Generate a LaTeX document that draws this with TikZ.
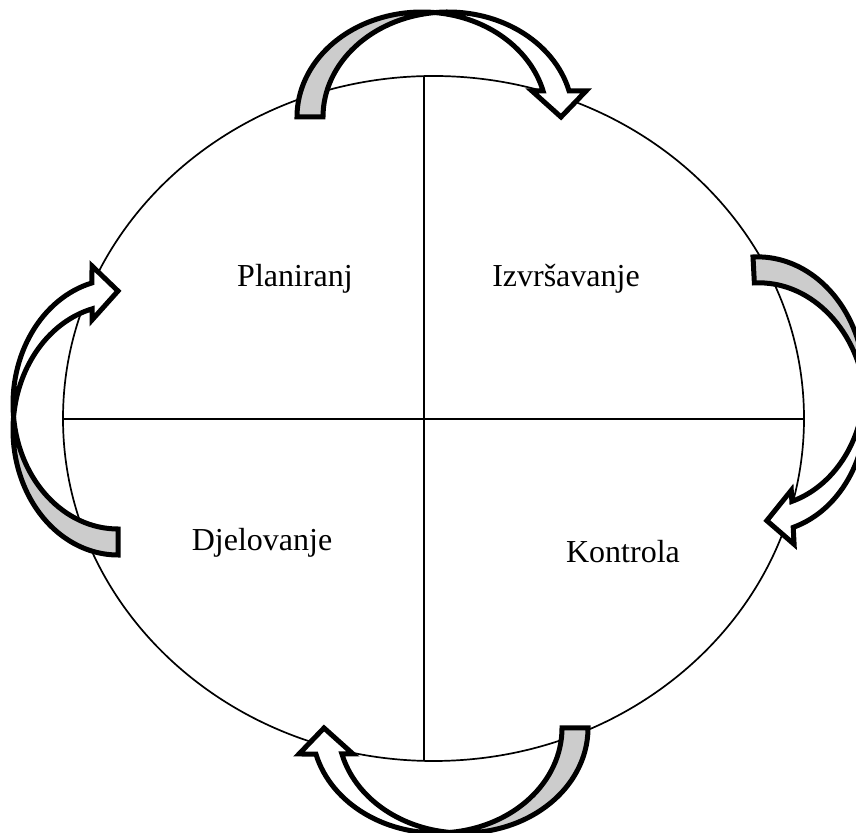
\documentclass[tikz,border=0pt]{standalone}
\usepackage{fontspec}
\setmainfont{Liberation Serif}
\usetikzlibrary{shapes.geometric}
\tikzset{
  band/.style={draw=black, line width=5pt, line join=miter},
  backband/.style={band, fill=black!20},
  frontband/.style={band, fill=white},
  ringline/.style={draw=black, line width=1.7pt},
  lbl/.style={font=\fontsize{32}{38}\selectfont, anchor=base, inner sep=0pt},
  curvy/.pic={
    \path[backband] (0,0)
      arc[start angle=180, end angle=84.03, x radius=125pt, y radius=105pt]
      arc[start angle=95.97, end angle=180, x radius=125pt, y radius=105pt]
      -- cycle;
    \path[frontband] (138,104.43)
      arc[start angle=95.97, end angle=14.34, x radius=125pt, y radius=105pt]
      -- (289,26) -- (264,0) -- (235,26) -- (246.1,26)
      arc[start angle=14.34, end angle=84.03, x radius=125pt, y radius=105pt]
      -- cycle;
  }
}
\begin{document}
\begin{tikzpicture}[x=1pt,y=1pt]
  \useasboundingbox (0,0) rectangle (856,832);
  % ring and quadrant lines
  \node[ringline, ellipse, minimum width=741pt, minimum height=685pt, inner sep=0pt] (ring) at (433.5,413.5) {};
  \coordinate (west) at (63,413);
  \coordinate (east) at (804,413);
  \coordinate (north) at (424,756);
  \coordinate (south) at (424,71);
  \draw[ringline] (west) -- (east);
  \draw[ringline] (north) -- (south);
  % labels
  \node[lbl] (plan) at (295,545) {Planiranj};
  \node[lbl] (izvr) at (566,545) {Izvršavanje};
  \node[lbl] (djel) at (262,281) {Djelovanje};
  \node[lbl] (kont) at (623,269) {Kontrola};
  % curved arrows
  \pic (atop) at (297,715) {curvy};
  \pic[rotate=-87] (aright) at (753,575) {curvy};
  \pic[rotate=180] (abottom) at (588,104) {curvy};
  \pic[rotate=90] (aleft) at (118,277) {curvy};
\end{tikzpicture}
\end{document}
